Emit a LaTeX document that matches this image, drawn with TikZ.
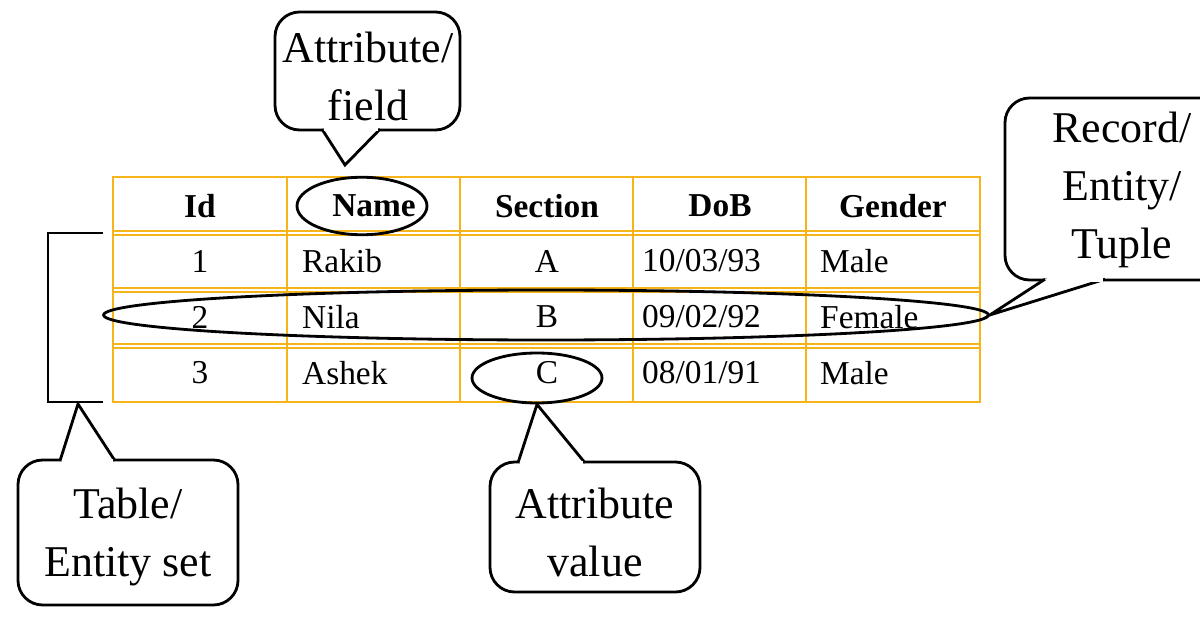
\documentclass[tikz,border=0pt]{standalone}
\usepackage{fontspec}
\setmainfont{Liberation Serif}
\usetikzlibrary{shapes.geometric}
\definecolor{gridorange}{HTML}{F4B41A}
\tikzset{
  cell/.style={font=\fontsize{19}{21}\selectfont},
  head/.style={font=\fontsize{19}{21}\selectfont\bfseries},
  callout/.style={draw, line width=1.6pt, rounded corners=14pt},
  tail/.style={draw, line width=1.6pt, fill=white, line join=miter},
  calltext/.style={font=\fontsize{25}{33}\selectfont, align=center},
  ring/.style={draw, ellipse, line width=1.6pt},
  grid/.style={draw=gridorange, line width=1.2pt}
}
\begin{document}
\begin{tikzpicture}[x=0.02cm, y=-0.02cm]
    \useasboundingbox (0,0) rectangle (1200,628);

    % Table grid
    \draw[grid] (113,177) rectangle (980,402);
    \foreach \xx in {287,460,633,806}
      \draw[grid] (\xx,177) -- (\xx,402);
    \foreach \yy in {233,290,346}
      \draw[grid] (113,\yy-2) -- (980,\yy-2) (113,\yy+2) -- (980,\yy+2);

    % Header
    \node[head] (hid)  at (200,206) {Id};
    \node[head] (hnm)  at (374,206) {Name};
    \node[head] (hsec) at (547,206) {Section};
    \node[head] (hdob) at (720,206) {DoB};
    \node[head] (hgen) at (893,206) {Gender};

    % Rows
    \foreach \i/\nm/\sec/\dob/\gen [count=\r] in {1/Rakib/A/10\slash 03\slash 93/Male,
        2/Nila/B/09\slash 02\slash 92/Female, 3/Ashek/C/08\slash 01\slash 91/Male}{
      \node[cell] (id\r) at (200,205+56*\r) {\i};
      \node[cell, anchor=west] (nm\r) at (296,205+56*\r) {\nm};
      \node[cell] (sec\r) at (547,205+56*\r) {\sec};
      \node[cell, anchor=west] (dob\r) at (636,205+56*\r) {\dob};
      \node[cell, anchor=west] (gen\r) at (814,205+56*\r) {\gen};
    }

    % Rings
    \node[ring, minimum width=2.6cm, minimum height=1.15cm] (ringname) at (362,206) {};
    \node[ring, minimum width=17.7cm, minimum height=1.0cm] (ringrow) at (546,315) {};
    \node[ring, minimum width=2.6cm, minimum height=1.0cm] (ringval) at (537,378) {};

    % Bracket
    \draw[line width=1.6pt] (103,233) -- (48,233) -- (48,402) -- (103,402);
    \coordinate (brk) at (78,404);

    % Callouts
    \draw[callout] (275,12) rectangle (460,130);
    \draw[tail] (322,129.2) -- (345,165) -- (380,129.2);
    \fill[white] (324,127) rectangle (378,131.5);
    \node[calltext] (lattr) at (368,76) {Attribute/\\field};

    \draw[callout] (1005,98) rectangle (1230,280);
    \draw[tail] (1045,279.2) -- (ringrow.east) -- (1105,279.2);
    \fill[white] (1047,277) rectangle (1103,281.5);
    \node[calltext] (lrec) at (1122,190) {Record/\\Entity/\\Tuple};

    \draw[callout] (18,460) rectangle (238,605);
    \draw[tail] (60,460.8) -- (brk) -- (115,460.8);
    \fill[white] (62,458.5) rectangle (113,463);
    \node[calltext] (ltab) at (128,537) {Table/\\Entity set};

    \draw[callout] (490,462) rectangle (700,592);
    \draw[tail] (518,462.8) -- (ringval.south) -- (585,462.8);
    \fill[white] (520,460.5) rectangle (583,465);
    \node[calltext] (lval) at (595,532) {Attribute\\value};
\end{tikzpicture}
\end{document}
